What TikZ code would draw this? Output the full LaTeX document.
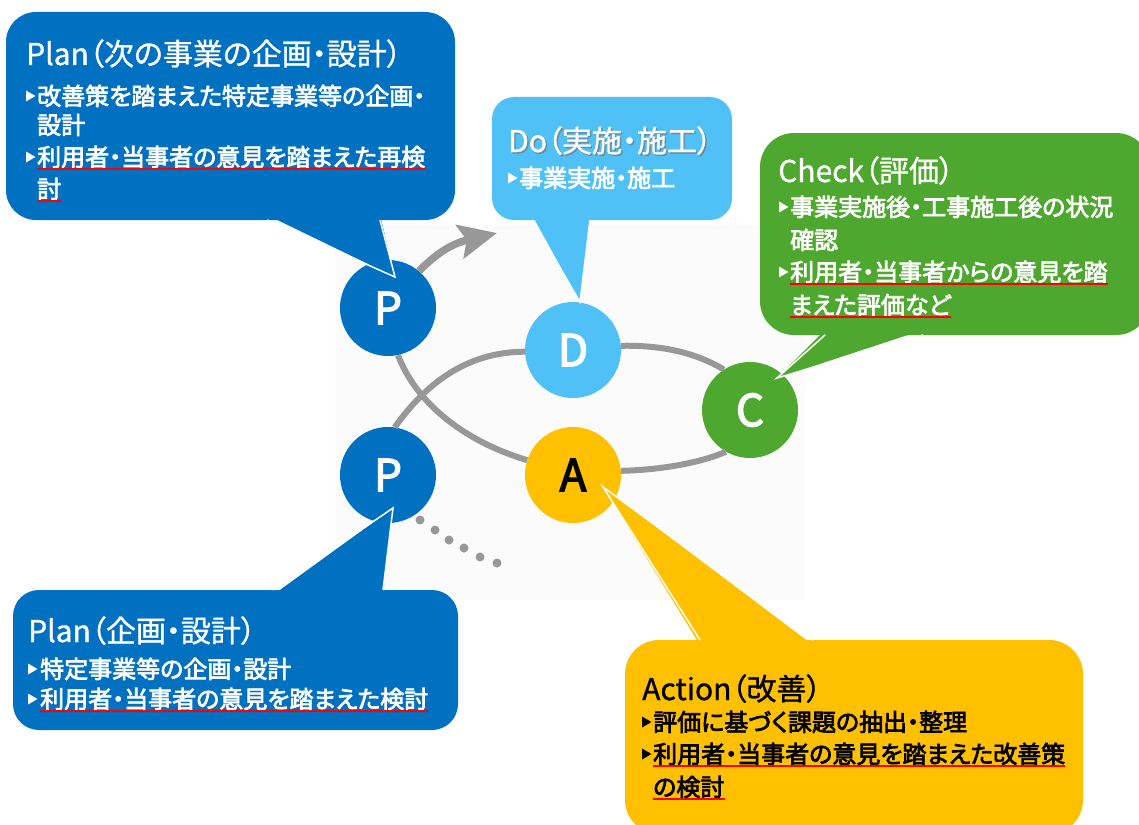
\documentclass[tikz,border=0pt]{standalone}
\usepackage{fontspec}
\setmainfont{Noto Sans CJK JP}[RawFeature=+palt]
\newfontfamily\jpmed{Noto Sans CJK JP}[RawFeature=+palt, FakeBold=3]
\newfontfamily\jptitle{Noto Sans CJK JP}[RawFeature=+palt, FakeBold=1]
\usetikzlibrary{arrows.meta}
\definecolor{planblue}{RGB}{0,112,192}
\definecolor{dolight}{RGB}{80,193,247}
\definecolor{checkgreen}{RGB}{78,167,46}
\definecolor{actyellow}{RGB}{255,192,0}
\definecolor{linegray}{RGB}{152,152,152}
\definecolor{ulred}{RGB}{255,0,0}
\definecolor{bgpatch}{RGB}{251,251,251}
\tikzset{
  circ/.style={circle, minimum size=96pt, inner sep=0pt, font=\jpmed\fontsize{44}{44}\selectfont, text=white},
  ring/.style={draw=linegray, line width=6pt},
  ttl/.style={anchor=base west, inner sep=0pt, font=\jptitle\fontsize{30}{30}\selectfont},
  itm/.style={anchor=base west, inner sep=0pt, font=\jpmed\fontsize{24}{24}\selectfont},
  uline/.style={draw=ulred, line width=2.5pt},
  tipedge/.style={draw=white, line width=1.5pt, line join=miter},
  tri/.pic={\fill (0,-5.5) -- (9.5,0) -- (0,5.5) -- cycle;},
}
\begin{document}
\begin{tikzpicture}[x=1pt,y=-1pt]
\useasboundingbox (0,0) rectangle (1139,824);
\fill[white] (0,0) rectangle (1139,824);
\fill[bgpatch] (335,225) rectangle (805,600);

% circles
\node[circ, fill=planblue] (P1) at (388,308) {P};
\node[circ, fill=dolight] (D) at (573,350) {D};
\node[circ, fill=checkgreen] (C) at (750,410) {C};
\node[circ, fill=actyellow, text=black] (A) at (573,475) {A};
\node[circ, fill=planblue] (P2) at (388,475) {P};

% cycle lines
\draw[ring] (P2.82) .. controls (425,385) and (465,352) .. (D.182);
\draw[ring] (P1.-78) .. controls (415,400) and (460,440) .. (A.162);
\draw[ring] (D.5) .. controls (660,345) and (695,352) .. (C.123);
\draw[ring] (C.-120) .. controls (700,463) and (660,470) .. (A.5);
\coordinate (arrowtip) at (497,233);
\draw[ring, line width=7.5pt, -{Stealth[length=38pt, width=34pt, inset=7pt]}] (P1.50) .. controls (435,255) and (450,244) .. (arrowtip);
\foreach \x/\y in {420/520,435/530,449/540,464/548,480/557,497/563}
  \fill[linegray] (\x,\y) circle (4.5);

% ---- Plan (top) callout
\fill[planblue, rounded corners=30pt] (6,12) rectangle (455,220);
\coordinate (tp1) at (395,277);
\fill[planblue] (267,215) -- (tp1) -- (380,215) -- cycle;
\draw[tipedge] (267,220) -- (tp1) -- (380,220);
\node[ttl, text=white] (pt0) at (26,65) {Plan（次の事業の企画・設計）};
\pic[white] at (26,96) {tri};
\node[itm, text=white] (pt1) at (37,105) {改善策を踏まえた特定事業等の企画・};
\node[itm, text=white] (pt2) at (37,134) {設計};
\pic[white] at (26,157) {tri};
\node[itm, text=white] (pt3) at (37,166) {利用者・当事者の意見を踏まえた再検};
\node[itm, text=white] (pt4) at (37,198) {討};
\draw[uline] ([yshift=-3pt]pt3.base west) -- ([yshift=-3pt]pt3.base east);
\draw[uline] ([yshift=-3pt]pt4.base west) -- ([yshift=-3pt]pt4.base east);

% ---- Do callout
\fill[dolight, rounded corners=22pt] (492,97) rectangle (732,220);
\coordinate (tpd) at (580,302);
\fill[dolight] (532,215) -- (tpd) -- (590,215) -- cycle;
\draw[tipedge] (532,220) -- (tpd) -- (590,220);
\node[ttl, text=black!55, opacity=0.6] (d0s) at (509.5,153.5) {Do（実施・施工）};
\node[ttl, text=white] (d0) at (508,152) {Do（実施・施工）};
\pic[white] at (508,178) {tri};
\node[itm, text=white] (d1) at (519,187) {事業実施・施工};

% ---- Check callout
\fill[checkgreen, rounded corners=34pt] (760,133) rectangle (1150,335);
\coordinate (tpc) at (777,378);
\fill[checkgreen] (825,330) -- (tpc) -- (923,330) -- cycle;
\draw[tipedge] (825,335) -- (tpc) -- (923,335);
\node[ttl, text=white] (c0) at (778,182) {Check（評価）};
\pic[white] at (779,207) {tri};
\node[itm, text=white] (c1) at (790,216) {事業実施後・工事施工後の状況};
\node[itm, text=white] (c2) at (790,249) {確認};
\pic[white] at (779,272) {tri};
\node[itm, text=white] (c3) at (790,281) {利用者・当事者からの意見を踏};
\node[itm, text=white] (c4) at (790,314) {まえた評価など};
\draw[uline] ([yshift=-3pt]c3.base west) -- ([yshift=-3pt]c3.base east);
\draw[uline] ([yshift=-3pt]c4.base west) -- ([yshift=-3pt]c4.base east);

% ---- Plan (bottom) callout
\fill[planblue, rounded corners=26pt] (13,590) rectangle (458,730);
\coordinate (tp2) at (393,508);
\fill[planblue] (273,595) -- (tp2) -- (383,595) -- cycle;
\draw[tipedge] (273,590) -- (tp2) -- (383,590);
\node[ttl, text=white] (pb0) at (28,642) {Plan（企画・設計）};
\pic[white] at (28,669) {tri};
\node[itm, text=white] (pb1) at (40,678) {特定事業等の企画・設計};
\pic[white] at (28,699) {tri};
\node[itm, text=white] (pb2) at (40,708) {利用者・当事者の意見を踏まえた検討};
\draw[uline] ([yshift=-3pt]pb2.base west) -- ([yshift=-3pt]pb2.base east);

% ---- Action callout
\fill[actyellow, rounded corners=34pt] (625,640) rectangle (1083,834);
\coordinate (tpa) at (603,487);
\fill[actyellow] (700,645) -- (tpa) -- (813,645) -- cycle;
\draw[tipedge] (700,640) -- (tpa) -- (813,640);
\node[ttl, text=black] (a0) at (642,700) {Action（改善）};
\pic[black] at (642,722) {tri};
\node[itm, text=black] (a1) at (653,731) {評価に基づく課題の抽出・整理};
\pic[black] at (642,754) {tri};
\node[itm, text=black] (a2) at (653,763) {利用者・当事者の意見を踏まえた改善策};
\node[itm, text=black] (a3) at (653,796) {の検討};
\draw[uline] ([yshift=-3pt]a2.base west) -- ([yshift=-3pt]a2.base east);
\draw[uline] ([yshift=-3pt]a3.base west) -- ([yshift=-3pt]a3.base east);
\end{tikzpicture}
\end{document}
